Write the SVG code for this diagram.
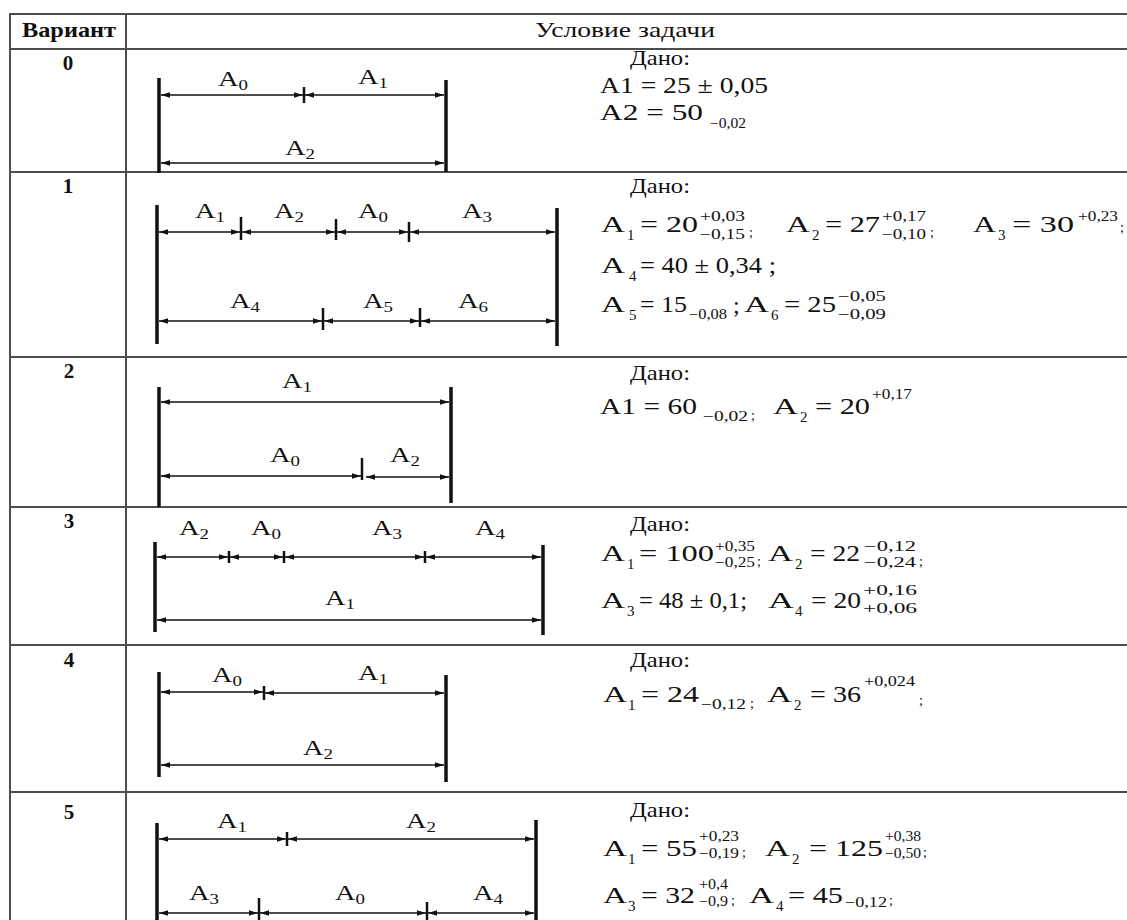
<svg xmlns="http://www.w3.org/2000/svg" width="1127" height="920" viewBox="0 0 1127 920">
<style>
.t{font-family:"Liberation Serif","Times New Roman",serif;fill:#111}
.h{font-size:21px;font-weight:bold}
.hr{font-size:21px}
.n{font-size:21px;font-weight:bold}
.d{font-size:21px}
.m{font-size:24px}
.i{font-size:15px}
.s{font-size:14px}
.l{font-size:21px}
.li{font-size:14px}
.grid line{stroke:#4d4d4d;stroke-width:2}
.bar{stroke:#111;stroke-width:3.5}
.tick{stroke:#111;stroke-width:2.5}
.dim{stroke:#111;stroke-width:1.5;fill:none}
</style>
<defs>
<marker id="ah" viewBox="0 0 9 6" refX="9" refY="3" markerWidth="9" markerHeight="6" markerUnits="userSpaceOnUse" orient="auto-start-reverse">
<path d="M0,0.3 L9,3 L0,5.7 z" fill="#111"/>
</marker>
</defs>
<rect width="1127" height="920" fill="#fff"/>

<g id="table" class="grid">
<line x1="9" y1="14" x2="1127" y2="14"/>
<line x1="9" y1="49" x2="1127" y2="49"/>
<line x1="9" y1="172" x2="1127" y2="172"/>
<line x1="9" y1="357" x2="1127" y2="357"/>
<line x1="9" y1="507" x2="1127" y2="507"/>
<line x1="9" y1="645" x2="1127" y2="645"/>
<line x1="9" y1="792" x2="1127" y2="792"/>
<line x1="10" y1="13" x2="10" y2="920"/>
<line x1="126" y1="13" x2="126" y2="920"/>
</g>

<g id="header">
<text class="t h" x="22" y="37" textLength="94" lengthAdjust="spacingAndGlyphs">Вариант</text>
<text class="t hr" x="535" y="37" textLength="180" lengthAdjust="spacingAndGlyphs">Условие задачи</text>
</g>

<g id="numbers" text-anchor="middle">
<text class="t n" x="68" y="70">0</text>
<text class="t n" x="68" y="193">1</text>
<text class="t n" x="69" y="378">2</text>
<text class="t n" x="69" y="528">3</text>
<text class="t n" x="69" y="667">4</text>
<text class="t n" x="69" y="819">5</text>
</g>

<g id="shapes">
<line class="bar" x1="159" y1="78" x2="159" y2="173"/>
<line class="bar" x1="446" y1="80" x2="446" y2="172"/>
<line class="tick" x1="304" y1="87" x2="304" y2="103"/>

<line class="bar" x1="157" y1="205" x2="157" y2="344"/>
<line class="bar" x1="557" y1="208" x2="557" y2="346"/>
<line class="tick" x1="241" y1="217" x2="241" y2="240"/>
<line class="tick" x1="336" y1="219" x2="336" y2="240"/>
<line class="tick" x1="409" y1="222" x2="409" y2="242"/>
<line class="tick" x1="323" y1="308" x2="323" y2="330"/>
<line class="tick" x1="420" y1="308" x2="420" y2="327"/>

<line class="bar" x1="159" y1="387" x2="159" y2="507"/>
<line class="bar" x1="451" y1="387" x2="451" y2="503"/>
<line class="tick" x1="362" y1="458" x2="362" y2="480"/>

<line class="bar" x1="155" y1="542" x2="155" y2="632"/>
<line class="bar" x1="543" y1="545" x2="543" y2="635"/>
<line class="tick" x1="229" y1="551" x2="229" y2="563"/>
<line class="tick" x1="284" y1="551" x2="284" y2="563"/>
<line class="tick" x1="425" y1="551" x2="425" y2="563"/>

<line class="bar" x1="159" y1="672" x2="159" y2="777"/>
<line class="bar" x1="446" y1="675" x2="446" y2="782"/>
<line class="tick" x1="264" y1="686" x2="264" y2="700"/>

<line class="bar" x1="157" y1="823" x2="157" y2="920"/>
<line class="bar" x1="536" y1="820" x2="536" y2="920"/>
<line class="tick" x1="287" y1="832" x2="287" y2="846"/>
<line class="tick" x1="259" y1="898" x2="259" y2="920"/>
<line class="tick" x1="427" y1="902" x2="427" y2="920"/>
</g>

<g id="connectors" class="dim" marker-start="url(#ah)" marker-end="url(#ah)">
<line x1="161" y1="95" x2="303" y2="95"/>
<line x1="305" y1="95" x2="444" y2="95"/>
<line x1="161" y1="163" x2="444" y2="163"/>

<line x1="159" y1="232" x2="240" y2="232"/>
<line x1="242" y1="232" x2="335" y2="232"/>
<line x1="337" y1="232" x2="408" y2="232"/>
<line x1="410" y1="232" x2="555" y2="232"/>
<line x1="159" y1="321" x2="322" y2="321"/>
<line x1="324" y1="321" x2="419" y2="321"/>
<line x1="421" y1="321" x2="555" y2="321"/>

<line x1="161" y1="402" x2="449" y2="402"/>
<line x1="161" y1="476" x2="361" y2="476"/>
<line x1="366" y1="477" x2="449" y2="477"/>

<line x1="157" y1="557" x2="228" y2="557"/>
<line x1="230" y1="557" x2="283" y2="557"/>
<line x1="285" y1="557" x2="424" y2="557"/>
<line x1="426" y1="557" x2="541" y2="557"/>
<line x1="157" y1="620" x2="541" y2="620"/>

<line x1="161" y1="692" x2="263" y2="692"/>
<line x1="265" y1="693" x2="444" y2="693"/>
<line x1="161" y1="765" x2="444" y2="765"/>

<line x1="159" y1="839" x2="286" y2="839"/>
<line x1="288" y1="839" x2="534" y2="839"/>
<line x1="159" y1="913" x2="258" y2="913"/>
<line x1="260" y1="913" x2="426" y2="913"/>
<line x1="428" y1="913" x2="534" y2="913"/>
</g>

<g id="labels" text-anchor="middle">
<text class="t l" x="233" y="86" textLength="30" lengthAdjust="spacingAndGlyphs">A<tspan class="li" dy="4">0</tspan></text>
<text class="t l" x="373" y="84" textLength="30" lengthAdjust="spacingAndGlyphs">A<tspan class="li" dy="4">1</tspan></text>
<text class="t l" x="300" y="155" textLength="30" lengthAdjust="spacingAndGlyphs">A<tspan class="li" dy="4">2</tspan></text>

<text class="t l" x="210" y="218" textLength="30" lengthAdjust="spacingAndGlyphs">A<tspan class="li" dy="4">1</tspan></text>
<text class="t l" x="289" y="218" textLength="30" lengthAdjust="spacingAndGlyphs">A<tspan class="li" dy="4">2</tspan></text>
<text class="t l" x="373" y="218" textLength="30" lengthAdjust="spacingAndGlyphs">A<tspan class="li" dy="4">0</tspan></text>
<text class="t l" x="477" y="218" textLength="30" lengthAdjust="spacingAndGlyphs">A<tspan class="li" dy="4">3</tspan></text>
<text class="t l" x="245" y="308" textLength="30" lengthAdjust="spacingAndGlyphs">A<tspan class="li" dy="4">4</tspan></text>
<text class="t l" x="378" y="308" textLength="30" lengthAdjust="spacingAndGlyphs">A<tspan class="li" dy="4">5</tspan></text>
<text class="t l" x="473" y="308" textLength="30" lengthAdjust="spacingAndGlyphs">A<tspan class="li" dy="4">6</tspan></text>

<text class="t l" x="297" y="388" textLength="30" lengthAdjust="spacingAndGlyphs">A<tspan class="li" dy="4">1</tspan></text>
<text class="t l" x="285" y="462" textLength="30" lengthAdjust="spacingAndGlyphs">A<tspan class="li" dy="4">0</tspan></text>
<text class="t l" x="405" y="462" textLength="30" lengthAdjust="spacingAndGlyphs">A<tspan class="li" dy="4">2</tspan></text>

<text class="t l" x="194" y="535" textLength="30" lengthAdjust="spacingAndGlyphs">A<tspan class="li" dy="4">2</tspan></text>
<text class="t l" x="266" y="535" textLength="30" lengthAdjust="spacingAndGlyphs">A<tspan class="li" dy="4">0</tspan></text>
<text class="t l" x="387" y="535" textLength="30" lengthAdjust="spacingAndGlyphs">A<tspan class="li" dy="4">3</tspan></text>
<text class="t l" x="490" y="535" textLength="30" lengthAdjust="spacingAndGlyphs">A<tspan class="li" dy="4">4</tspan></text>
<text class="t l" x="340" y="605" textLength="30" lengthAdjust="spacingAndGlyphs">A<tspan class="li" dy="4">1</tspan></text>

<text class="t l" x="227" y="682" textLength="30" lengthAdjust="spacingAndGlyphs">A<tspan class="li" dy="4">0</tspan></text>
<text class="t l" x="373" y="680" textLength="30" lengthAdjust="spacingAndGlyphs">A<tspan class="li" dy="4">1</tspan></text>
<text class="t l" x="318" y="755" textLength="30" lengthAdjust="spacingAndGlyphs">A<tspan class="li" dy="4">2</tspan></text>

<text class="t l" x="232" y="828" textLength="30" lengthAdjust="spacingAndGlyphs">A<tspan class="li" dy="4">1</tspan></text>
<text class="t l" x="421" y="828" textLength="30" lengthAdjust="spacingAndGlyphs">A<tspan class="li" dy="4">2</tspan></text>
<text class="t l" x="204" y="900" textLength="30" lengthAdjust="spacingAndGlyphs">A<tspan class="li" dy="4">3</tspan></text>
<text class="t l" x="350" y="900" textLength="30" lengthAdjust="spacingAndGlyphs">A<tspan class="li" dy="4">0</tspan></text>
<text class="t l" x="488" y="900" textLength="30" lengthAdjust="spacingAndGlyphs">A<tspan class="li" dy="4">4</tspan></text>
</g>

<g id="cond0">
<text class="t d" x="630" y="65" textLength="60" lengthAdjust="spacingAndGlyphs">Дано:</text>
<text class="t m" x="600" y="93" textLength="168" lengthAdjust="spacingAndGlyphs">A1 = 25 ± 0,05</text>
<text class="t m" x="600" y="120" textLength="103" lengthAdjust="spacingAndGlyphs">A2 = 50</text>
<text class="t s" x="710" y="128" textLength="36" lengthAdjust="spacingAndGlyphs">−0,02</text>
</g>

<g id="cond1">
<text class="t d" x="630" y="193" textLength="60" lengthAdjust="spacingAndGlyphs">Дано:</text>
<text class="t m" x="601" y="232" textLength="24" lengthAdjust="spacingAndGlyphs">A</text>
<text class="t i" x="627" y="240">1</text>
<text class="t m" x="640" y="232" textLength="58" lengthAdjust="spacingAndGlyphs">= 20</text>
<text class="t s" x="700" y="221" textLength="45" lengthAdjust="spacingAndGlyphs">+0,03</text>
<text class="t s" x="700" y="239" textLength="45" lengthAdjust="spacingAndGlyphs">−0,15</text>
<text class="t s" x="749" y="237">;</text>
<text class="t m" x="786" y="232" textLength="24" lengthAdjust="spacingAndGlyphs">A</text>
<text class="t i" x="812" y="240">2</text>
<text class="t m" x="825" y="232" textLength="55" lengthAdjust="spacingAndGlyphs">= 27</text>
<text class="t s" x="882" y="221" textLength="44" lengthAdjust="spacingAndGlyphs">+0,17</text>
<text class="t s" x="882" y="239" textLength="44" lengthAdjust="spacingAndGlyphs">−0,10</text>
<text class="t s" x="930" y="237">;</text>
<text class="t m" x="973" y="232" textLength="23" lengthAdjust="spacingAndGlyphs">A</text>
<text class="t i" x="998" y="240">3</text>
<text class="t m" x="1012" y="232" textLength="62" lengthAdjust="spacingAndGlyphs">= 30</text>
<text class="t s" x="1078" y="221" textLength="40" lengthAdjust="spacingAndGlyphs">+0,23</text>
<text class="t s" x="1120" y="232">;</text>

<text class="t m" x="601" y="273" textLength="24" lengthAdjust="spacingAndGlyphs">A</text>
<text class="t i" x="629" y="281">4</text>
<text class="t m" x="640" y="273" textLength="136" lengthAdjust="spacingAndGlyphs">= 40 ± 0,34 ;</text>

<text class="t m" x="601" y="312" textLength="24" lengthAdjust="spacingAndGlyphs">A</text>
<text class="t i" x="629" y="320">5</text>
<text class="t m" x="640" y="312" textLength="47" lengthAdjust="spacingAndGlyphs">= 15</text>
<text class="t s" x="689" y="319" textLength="38" lengthAdjust="spacingAndGlyphs">−0,08</text>
<text class="t m" x="733" y="313">;</text>
<text class="t m" x="744" y="312" textLength="25" lengthAdjust="spacingAndGlyphs">A</text>
<text class="t i" x="771" y="320">6</text>
<text class="t m" x="784" y="312" textLength="52" lengthAdjust="spacingAndGlyphs">= 25</text>
<text class="t s" x="838" y="301" textLength="48" lengthAdjust="spacingAndGlyphs">−0,05</text>
<text class="t s" x="838" y="319" textLength="48" lengthAdjust="spacingAndGlyphs">−0,09</text>
</g>

<g id="cond2">
<text class="t d" x="630" y="380" textLength="60" lengthAdjust="spacingAndGlyphs">Дано:</text>
<text class="t m" x="600" y="414" textLength="97" lengthAdjust="spacingAndGlyphs">A1 = 60</text>
<text class="t s" x="703" y="421" textLength="45" lengthAdjust="spacingAndGlyphs">−0,02</text>
<text class="t s" x="751" y="420">;</text>
<text class="t m" x="773" y="414" textLength="25" lengthAdjust="spacingAndGlyphs">A</text>
<text class="t i" x="800" y="422">2</text>
<text class="t m" x="815" y="414" textLength="55" lengthAdjust="spacingAndGlyphs">= 20</text>
<text class="t s" x="872" y="399" textLength="40" lengthAdjust="spacingAndGlyphs">+0,17</text>
</g>

<g id="cond3">
<text class="t d" x="630" y="531" textLength="60" lengthAdjust="spacingAndGlyphs">Дано:</text>
<text class="t m" x="601" y="561" textLength="24" lengthAdjust="spacingAndGlyphs">A</text>
<text class="t i" x="627" y="569">1</text>
<text class="t m" x="639" y="561" textLength="75" lengthAdjust="spacingAndGlyphs">= 100</text>
<text class="t s" x="715" y="551" textLength="40" lengthAdjust="spacingAndGlyphs">+0,35</text>
<text class="t s" x="715" y="567" textLength="40" lengthAdjust="spacingAndGlyphs">−0,25</text>
<text class="t s" x="757" y="566">;</text>
<text class="t m" x="768" y="561" textLength="25" lengthAdjust="spacingAndGlyphs">A</text>
<text class="t i" x="795" y="569">2</text>
<text class="t m" x="810" y="561" textLength="50" lengthAdjust="spacingAndGlyphs">= 22</text>
<text class="t s" x="864" y="551" textLength="52" lengthAdjust="spacingAndGlyphs">−0,12</text>
<text class="t s" x="864" y="567" textLength="52" lengthAdjust="spacingAndGlyphs">−0,24</text>
<text class="t s" x="919" y="566">;</text>

<text class="t m" x="601" y="608" textLength="24" lengthAdjust="spacingAndGlyphs">A</text>
<text class="t i" x="627" y="616">3</text>
<text class="t m" x="639" y="608" textLength="108" lengthAdjust="spacingAndGlyphs">= 48 ± 0,1;</text>
<text class="t m" x="768" y="608" textLength="26" lengthAdjust="spacingAndGlyphs">A</text>
<text class="t i" x="795" y="616">4</text>
<text class="t m" x="811" y="608" textLength="50" lengthAdjust="spacingAndGlyphs">= 20</text>
<text class="t s" x="863" y="595" textLength="54" lengthAdjust="spacingAndGlyphs">+0,16</text>
<text class="t s" x="863" y="613" textLength="54" lengthAdjust="spacingAndGlyphs">+0,06</text>
</g>

<g id="cond4">
<text class="t d" x="630" y="667" textLength="60" lengthAdjust="spacingAndGlyphs">Дано:</text>
<text class="t m" x="603" y="702" textLength="24" lengthAdjust="spacingAndGlyphs">A</text>
<text class="t i" x="628" y="710">1</text>
<text class="t m" x="641" y="702" textLength="58" lengthAdjust="spacingAndGlyphs">= 24</text>
<text class="t s" x="701" y="709" textLength="45" lengthAdjust="spacingAndGlyphs">−0,12</text>
<text class="t s" x="750" y="708">;</text>
<text class="t m" x="767" y="702" textLength="25" lengthAdjust="spacingAndGlyphs">A</text>
<text class="t i" x="794" y="710">2</text>
<text class="t m" x="810" y="702" textLength="51" lengthAdjust="spacingAndGlyphs">= 36</text>
<text class="t s" x="864" y="686" textLength="51" lengthAdjust="spacingAndGlyphs">+0,024</text>
<text class="t s" x="919" y="705">;</text>
</g>

<g id="cond5">
<text class="t d" x="630" y="817" textLength="60" lengthAdjust="spacingAndGlyphs">Дано:</text>
<text class="t m" x="603" y="856" textLength="24" lengthAdjust="spacingAndGlyphs">A</text>
<text class="t i" x="628" y="864">1</text>
<text class="t m" x="641" y="856" textLength="56" lengthAdjust="spacingAndGlyphs">= 55</text>
<text class="t s" x="699" y="841" textLength="40" lengthAdjust="spacingAndGlyphs">+0,23</text>
<text class="t s" x="699" y="858" textLength="40" lengthAdjust="spacingAndGlyphs">−0,19</text>
<text class="t s" x="742" y="857">;</text>
<text class="t m" x="765" y="856" textLength="25" lengthAdjust="spacingAndGlyphs">A</text>
<text class="t i" x="792" y="864">2</text>
<text class="t m" x="809" y="856" textLength="74" lengthAdjust="spacingAndGlyphs">= 125</text>
<text class="t s" x="885" y="841" textLength="36" lengthAdjust="spacingAndGlyphs">+0,38</text>
<text class="t s" x="885" y="858" textLength="36" lengthAdjust="spacingAndGlyphs">−0,50</text>
<text class="t s" x="923" y="857">;</text>

<text class="t m" x="603" y="903" textLength="24" lengthAdjust="spacingAndGlyphs">A</text>
<text class="t i" x="628" y="911">3</text>
<text class="t m" x="641" y="903" textLength="54" lengthAdjust="spacingAndGlyphs">= 32</text>
<text class="t s" x="699" y="889" textLength="29" lengthAdjust="spacingAndGlyphs">+0,4</text>
<text class="t s" x="699" y="906" textLength="29" lengthAdjust="spacingAndGlyphs">−0,9</text>
<text class="t s" x="731" y="905">;</text>
<text class="t m" x="749" y="903" textLength="25" lengthAdjust="spacingAndGlyphs">A</text>
<text class="t i" x="776" y="911">4</text>
<text class="t m" x="788" y="903" textLength="55" lengthAdjust="spacingAndGlyphs">= 45</text>
<text class="t s" x="845" y="907" textLength="42" lengthAdjust="spacingAndGlyphs">−0,12</text>
<text class="t s" x="889" y="905">;</text>
</g>
</svg>
